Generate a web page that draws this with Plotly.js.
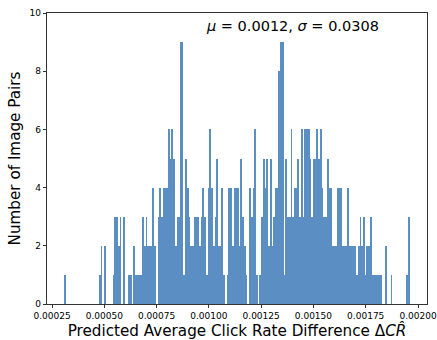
<!DOCTYPE html>
<html>
<head>
<meta charset="utf-8">
<script src="https://cdn.plot.ly/plotly-3.0.1.min.js"></script>
<style>html,body{margin:0;padding:0;background:#fff;}#chart{width:437px;height:340px;}</style>
</head>
<body>
<div id="chart"></div>
<script>
// Histogram data: 200 equal-width bins between binLow and binHigh
const binLow = 0.000309;
const binHigh = 0.00196;
const counts = [
  1,0,0,0,0,0,0,0,0,0, 0,0,0,0,0,0,0,0,0,0,
  1,2,0,2,0,0,0,0,1,3, 3,2,3,0,3,0,0,1,1,0,
  2,1,1,1,1,3,2,3,2,2, 2,4,2,0,3,4,3,4,4,4,
  6,5,6,5,2,3,3,9,9,1, 5,4,3,2,2,3,3,3,2,3,
  4,3,1,4,6,4,2,3,5,2, 2,4,1,0,1,4,4,2,4,4,
  4,2,5,3,2,1,0,4,3,4, 6,1,0,1,3,5,4,5,2,5,
  2,3,4,4,8,9,9,1,5,3, 3,6,3,4,4,5,3,6,3,6,
  6,6,5,3,5,5,6,5,6,4, 3,3,5,4,4,2,2,2,4,4,
  4,2,2,2,4,2,2,2,2,1, 2,3,2,3,1,2,2,3,1,1,
  1,1,1,1,0,0,2,0,0,1, 0,0,0,0,0,0,0,0,1,3
];
const xTickVals = [0.00025,0.00050,0.00075,0.00100,0.00125,0.00150,0.00175,0.00200];
const yTickVals = [0,2,4,6,8,10];
const statsLabel = "<i>μ</i> = 0.0012, <i>σ</i> = 0.0308";

const nBins = counts.length;
const binW = (binHigh - binLow) / nBins;
const centers = counts.map((c, i) => binLow + (i + 0.5) * binW);

const trace = {
  type: 'bar',
  x: centers,
  y: counts,
  width: binW,
  marker: {color: '#5b8ec2', line: {width: 0}},
  hoverinfo: 'x+y'
};

const font = 'DejaVu Sans, sans-serif';
const layout = {
  width: 437, height: 340,
  margin: {l: 47, r: 10, t: 13, b: 36},
  paper_bgcolor: '#fff', plot_bgcolor: '#fff',
  showlegend: false,
  bargap: 0,
  font: {family: font, color: '#000', size: 9},
  xaxis: {
    range: [0.000226, 0.002043],
    tickvals: xTickVals,
    tickformat: '.5f',
    ticks: 'outside', ticklen: 3.5, tickwidth: 0.8, tickcolor: '#000',
    showline: true, linecolor: '#000', linewidth: 0.8, mirror: true,
    showgrid: false, zeroline: false,
    tickfont: {family: font, size: 9},
    title: {text: 'Predicted Average Click Rate Difference Δ<i>CR̂</i>', font: {family: font, size: 15.2}, standoff: 5}
  },
  yaxis: {
    range: [0, 10],
    tickvals: yTickVals,
    ticks: 'outside', ticklen: 3.5, tickwidth: 0.8, tickcolor: '#000',
    showline: true, linecolor: '#000', linewidth: 0.8, mirror: true,
    showgrid: false, zeroline: false,
    tickfont: {family: font, size: 9},
    title: {text: 'Number of Image Pairs', font: {family: font, size: 15.2}, standoff: 5}
  },
  annotations: [{
    text: statsLabel, xref: 'paper', yref: 'paper', x: 0.647, y: 0.955,
    xanchor: 'center', yanchor: 'middle', showarrow: false,
    font: {family: font, size: 14.5, color: '#000'}
  }]
};

Plotly.newPlot('chart', [trace], layout, {displayModeBar: false, staticPlot: true});
</script>
</body>
</html>
